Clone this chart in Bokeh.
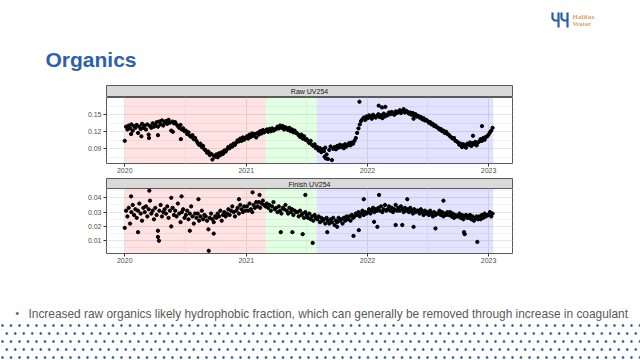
import pandas as pd
from bokeh.plotting import figure
from bokeh.layouts import column
from bokeh.models import Range1d, FixedTicker, DatetimeTickFormatter, NumeralTickFormatter, BoxAnnotation
from bokeh.core.properties import value
from bokeh.embed import file_html
from bokeh.resources import INLINE

# ---------------- text ----------------
title_text = "Organics"
bullet_text = ("Increased raw organics likely hydrophobic fraction, which can generally "
               "be removed through increase in coagulant")
logo_words = ["Halifax", "Water"]
panel_titles = ["Raw UV254", "Finish UV254"]

# ---------------- data ----------------
series_start = "2020-01-01"
sample_step = "4D"

raw_uv254 = [
    0.104, 0.129, 0.124, 0.131, 0.126, 0.133, 0.122, 0.130,
    0.127, 0.132, 0.118, 0.129, 0.125, 0.134, 0.127,
    0.131, 0.124, 0.133, 0.115, 0.130, 0.127, 0.135, 0.129,
    0.132, 0.137, 0.129, 0.138, 0.133, 0.140, 0.131, 0.136,
    0.139, 0.134, 0.141, 0.136, 0.122, 0.138, 0.135,
    0.137, 0.133, 0.130, 0.127, 0.132, 0.124, 0.126, 0.121,
    0.122, 0.116, 0.119, 0.113, 0.111, 0.114, 0.107, 0.109,
    0.104, 0.100, 0.097, 0.099, 0.093, 0.095, 0.089,
    0.087, 0.083, 0.085, 0.079, 0.081, 0.071, 0.078, 0.076,
    0.080, 0.075, 0.082, 0.079, 0.084, 0.081, 0.087, 0.085,
    0.089, 0.093, 0.091, 0.096, 0.094, 0.099, 0.097,
    0.101, 0.105, 0.103, 0.108, 0.104, 0.110, 0.106, 0.109,
    0.112, 0.108, 0.115, 0.111, 0.117, 0.113, 0.116, 0.110,
    0.118, 0.115, 0.121, 0.117, 0.123, 0.119, 0.122,
    0.124, 0.120, 0.125, 0.121, 0.126, 0.122, 0.124,
    0.125, 0.129, 0.126, 0.131, 0.127, 0.130, 0.124, 0.128,
    0.126, 0.123, 0.127, 0.121, 0.124, 0.119, 0.122, 0.118,
    0.117, 0.114, 0.111, 0.115, 0.108, 0.112, 0.106,
    0.107, 0.103, 0.100, 0.104, 0.097, 0.095, 0.098, 0.091,
    0.093, 0.087, 0.091, 0.084, 0.089, 0.086, 0.092, 0.080,
    0.072, 0.088, 0.094, 0.070, 0.090, 0.093, 0.089,
    0.095, 0.092, 0.097, 0.093, 0.096, 0.091, 0.098, 0.094,
    0.097, 0.100, 0.096, 0.101, 0.099, 0.104, 0.109,
    0.118, 0.126, 0.133, 0.139, 0.142, 0.145, 0.141, 0.147,
    0.144, 0.149, 0.146, 0.143, 0.150, 0.147, 0.145, 0.148,
    0.151, 0.146, 0.149, 0.144, 0.152, 0.147, 0.150,
    0.149, 0.154, 0.151, 0.155, 0.152, 0.150, 0.156, 0.153,
    0.155, 0.158, 0.153, 0.157, 0.160, 0.154, 0.157,
    0.155, 0.152, 0.154, 0.150, 0.153, 0.149, 0.151, 0.147,
    0.148, 0.145, 0.146, 0.142, 0.144, 0.140, 0.141,
    0.139, 0.136, 0.137, 0.133, 0.134, 0.130, 0.131, 0.128,
    0.127, 0.124, 0.125, 0.121, 0.122, 0.118, 0.120, 0.116,
    0.115, 0.112, 0.110, 0.108, 0.109, 0.104, 0.103,
    0.101, 0.097, 0.099, 0.093, 0.098, 0.096, 0.092, 0.099,
    0.097, 0.101, 0.095, 0.100, 0.098, 0.102, 0.096, 0.101,
    0.103, 0.107, 0.104, 0.109, 0.106, 0.111, 0.112,
    0.115, 0.119, 0.122, 0.127,
]

finish_uv254 = [
    0.019, 0.031, 0.027, 0.033, 0.022, 0.030, 0.035, 0.028,
    0.032, 0.026, 0.031, 0.036, 0.029, 0.024, 0.033,
    0.030, 0.034, 0.027, 0.032, 0.038, 0.029, 0.031, 0.025,
    0.033, 0.028, 0.017, 0.031, 0.035, 0.027, 0.030, 0.032,
    0.029, 0.034, 0.026, 0.031, 0.020, 0.033, 0.028,
    0.031, 0.027, 0.036, 0.029, 0.023, 0.030, 0.032, 0.026,
    0.028, 0.031, 0.025, 0.029, 0.034, 0.027, 0.022, 0.029,
    0.026, 0.029, 0.024, 0.027, 0.031, 0.025, 0.028,
    0.027, 0.024, 0.018, 0.026, 0.029, 0.025, 0.023, 0.027,
    0.026, 0.029, 0.027, 0.031, 0.024, 0.028, 0.030, 0.027,
    0.029, 0.032, 0.028, 0.031, 0.034, 0.030, 0.027,
    0.031, 0.033, 0.029, 0.035, 0.032, 0.030, 0.034, 0.031,
    0.034, 0.031, 0.036, 0.032, 0.030, 0.035, 0.033, 0.037,
    0.034, 0.037, 0.033, 0.036, 0.038, 0.035, 0.034,
    0.036, 0.033, 0.035, 0.031, 0.034, 0.037, 0.032,
    0.033, 0.030, 0.034, 0.031, 0.029, 0.033, 0.032, 0.035,
    0.031, 0.029, 0.033, 0.030, 0.032, 0.028, 0.031, 0.030,
    0.030, 0.027, 0.031, 0.028, 0.029, 0.026, 0.030,
    0.028, 0.026, 0.029, 0.025, 0.027, 0.024, 0.028, 0.026,
    0.025, 0.027, 0.023, 0.026, 0.024, 0.025, 0.022, 0.026,
    0.024, 0.022, 0.025, 0.023, 0.026, 0.021, 0.024,
    0.023, 0.026, 0.024, 0.025, 0.022, 0.026, 0.024, 0.027,
    0.025, 0.027, 0.024, 0.028, 0.026, 0.027, 0.029,
    0.028, 0.030, 0.027, 0.029, 0.031, 0.028, 0.030, 0.029,
    0.030, 0.032, 0.029, 0.031, 0.033, 0.030, 0.032, 0.031,
    0.033, 0.031, 0.034, 0.030, 0.032, 0.035, 0.031,
    0.032, 0.034, 0.031, 0.033, 0.030, 0.032, 0.035, 0.031,
    0.033, 0.031, 0.034, 0.032, 0.030, 0.033, 0.031,
    0.032, 0.030, 0.033, 0.031, 0.029, 0.032, 0.030, 0.031,
    0.031, 0.029, 0.032, 0.030, 0.028, 0.031, 0.029,
    0.030, 0.028, 0.031, 0.029, 0.027, 0.030, 0.028, 0.029,
    0.029, 0.031, 0.028, 0.030, 0.027, 0.029, 0.028, 0.030,
    0.028, 0.030, 0.027, 0.029, 0.026, 0.028, 0.027,
    0.027, 0.029, 0.026, 0.028, 0.025, 0.027, 0.028, 0.026,
    0.026, 0.028, 0.025, 0.027, 0.024, 0.026, 0.027, 0.025,
    0.027, 0.025, 0.028, 0.026, 0.029, 0.027, 0.028,
    0.028, 0.030, 0.027, 0.029,
]

raw_extra_dates = ["2020-01-20", "2020-02-20", "2020-03-14", "2020-04-10", "2020-05-25",
                   "2020-06-18", "2021-08-25", "2021-08-29", "2021-12-08", "2022-02-04",
                   "2022-02-14", "2022-02-24", "2022-05-20", "2022-11-15", "2022-12-12"]
raw_extra_values = [0.116, 0.112, 0.109, 0.114, 0.120,
                    0.107, 0.076, 0.073, 0.173, 0.166,
                    0.163, 0.164, 0.143, 0.113, 0.130]

finish_extra_dates = ["2020-01-20", "2020-02-10", "2020-03-15", "2020-04-10", "2020-04-13",
                      "2020-05-20", "2020-06-20", "2020-07-15", "2020-08-10", "2020-09-10",
                      "2020-09-25", "2020-12-10", "2021-01-20", "2021-02-10", "2021-04-15",
                      "2021-05-20", "2021-06-20", "2021-06-28", "2021-07-20", "2021-09-02",
                      "2021-10-02", "2021-11-20", "2021-12-06", "2021-12-21", "2022-01-21",
                      "2022-01-31", "2022-02-05", "2022-03-27", "2022-04-16", "2022-05-01",
                      "2022-05-20", "2022-07-25", "2022-08-18", "2022-10-19", "2022-10-21",
                      "2022-11-28"]
finish_extra_values = [0.041, 0.016, 0.045, 0.0127, 0.010,
                       0.040, 0.041, 0.017, 0.039, 0.003,
                       0.015, 0.039, 0.0438, 0.042, 0.016,
                       0.016, 0.0146, 0.042, 0.0085, 0.016,
                       0.0197, 0.0134, 0.0174, 0.039, 0.0232,
                       0.0197, 0.042, 0.021, 0.021, 0.039,
                       0.0197, 0.0186, 0.038, 0.016, 0.0146,
                       0.0092]

period_starts = ["2020-01-01", "2021-03-01", "2021-08-01"]
period_ends = ["2021-03-01", "2021-08-01", "2023-01-15"]
period_colors = ["#ff0000", "#00ff00", "#0000ff"]

year_ticks = ["2020-01-01", "2021-01-01", "2022-01-01", "2023-01-01"]
year_minor = ["2020-07-01", "2021-07-01", "2022-07-01"]
x_limits = ["2019-11-07", "2023-03-14"]

raw_ticks = [0.09, 0.12, 0.15]
raw_minor = [0.075, 0.105, 0.135, 0.165]
raw_limits = [0.064, 0.1805]
finish_ticks = [0.01, 0.02, 0.03, 0.04]
finish_minor = [0.005, 0.015, 0.025, 0.035, 0.045]
finish_limits = [0.0011, 0.0465]

# ---------------- style ----------------
W = 640
FONT = "Liberation Sans"
BLUE = "#2d62ab"
LEFT, RIGHT = 106, 128


def ms(d):
    return pd.Timestamp(d).value / 1e6


def blank(height, top, bottom):
    p = figure(width=W, height=height, output_backend="svg", toolbar_location=None,
               x_range=Range1d(0, W), y_range=Range1d(bottom, top),
               x_axis_location=None, y_axis_location=None,
               min_border_left=0, min_border_right=0, min_border_top=0, min_border_bottom=0)
    p.xgrid.visible = False
    p.ygrid.visible = False
    p.outline_line_color = None
    p.background_fill_color = "white"
    p.border_fill_color = "white"
    return p


def strip(height, label):
    p = figure(width=W, height=height, output_backend="svg", toolbar_location=None,
               x_range=Range1d(0, 1), y_range=Range1d(0, 1),
               x_axis_location=None, y_axis_location=None,
               min_border_left=LEFT, min_border_right=RIGHT, min_border_top=0, min_border_bottom=0)
    p.xgrid.visible = False
    p.ygrid.visible = False
    p.background_fill_color = "#d9d9d9"
    p.border_fill_color = "white"
    p.outline_line_color = "#5a5a5a"
    p.text(x=[0.5], y=[0.5], text=[label], text_align="center", text_baseline="middle",
           text_font=value(FONT), text_font_size="7px", text_color="#1a1a1a")
    return p


def panel(height, values, extra_dates, extra_values, ylims, yticks, yminor, fmt):
    p = figure(width=W, height=height, output_backend="svg", toolbar_location=None,
               x_axis_type="datetime",
               x_range=Range1d(ms(x_limits[0]), ms(x_limits[1])),
               y_range=Range1d(ylims[0], ylims[1]),
               min_border_left=LEFT, min_border_right=RIGHT, min_border_top=0, min_border_bottom=14)
    p.background_fill_color = "white"
    p.border_fill_color = "white"
    p.outline_line_color = "#5a5a5a"

    p.xaxis.ticker = FixedTicker(ticks=[ms(t) for t in year_ticks],
                                 minor_ticks=[ms(t) for t in year_minor])
    p.xaxis.formatter = DatetimeTickFormatter(years="%Y", months="%Y", days="%Y",
                                              hours="%Y", minutes="%Y", seconds="%Y",
                                              milliseconds="%Y", microseconds="%Y")
    p.yaxis.ticker = FixedTicker(ticks=yticks, minor_ticks=yminor)
    p.yaxis.formatter = NumeralTickFormatter(format=fmt)
    for ax in (p.xaxis, p.yaxis):
        ax.axis_line_color = None
        ax.major_tick_line_color = "#333333"
        ax.major_tick_out = 3
        ax.major_tick_in = 0
        ax.minor_tick_line_color = None
        ax.major_label_text_font = FONT
        ax.major_label_text_font_size = "7px"
        ax.major_label_text_color = "#4d4d4d"
    p.xaxis.major_label_standoff = 0
    p.yaxis.major_label_standoff = 1

    for g in (p.xgrid, p.ygrid):
        g.grid_line_color = "#e6e6e6"
        g.grid_line_width = 1
        g.minor_grid_line_color = "#f2f2f2"
        g.minor_grid_line_width = 1

    for s, e, c in zip(period_starts, period_ends, period_colors):
        p.add_layout(BoxAnnotation(left=ms(s), right=ms(e), fill_color=c, fill_alpha=0.11,
                                   line_color=None, level="underlay"))

    dates = pd.date_range(series_start, periods=len(values), freq=sample_step)
    p.scatter(x=dates, y=values, size=3.3, color="black")
    p.scatter(x=pd.to_datetime(extra_dates), y=extra_values, size=3.3, color="black")
    return p


# ---------------- header ----------------
head = blank(85, 0, 85)
head.text(x=[45], y=[58.5], text=[title_text], text_font=value(FONT), text_font_style="bold",
          text_font_size="21px", text_color=BLUE, text_baseline="middle")
# logo mark
head.multi_line(xs=[[552, 552, 554, 558], [558, 558], [561, 561, 563, 567], [567, 567]],
                ys=[[12, 18, 20, 20], [12, 27], [12, 18, 20, 20], [12, 27]],
                line_color="#2b5ea7", line_width=2.2)
head.text(x=[572, 572], y=[16.5, 23.5], text=logo_words, text_font=value("Liberation Serif"),
          text_font_style="bold", text_font_size="7px", text_color="#e0a172",
          text_baseline="middle")

# ---------------- panels ----------------
strip_raw = strip(12, panel_titles[0])
raw_p = panel(80, raw_uv254, raw_extra_dates, raw_extra_values, raw_limits,
              raw_ticks, raw_minor, "0.00")
strip_fin = strip(11, panel_titles[1])
fin_p = panel(79, finish_uv254, finish_extra_dates, finish_extra_values, finish_limits,
              finish_ticks, finish_minor, "0.00")
charts = column(strip_raw, raw_p, strip_fin, fin_p, spacing=0)

# ---------------- footer ----------------
foot = blank(93, 267, 360)
foot.text(x=[15], y=[313], text=["\u2022"], text_font=value(FONT), text_font_size="10px",
          text_color="#595959", text_baseline="middle")
foot.text(x=[28], y=[313], text=[bullet_text], text_font=value(FONT), text_font_size="11.9px",
          text_color="#595959", text_baseline="middle")
dot_x, dot_y = [], []
for r, yy in enumerate([325, 333, 341, 349, 357]):
    off = 0 if r % 2 == 0 else 4.25
    xx = 2 + off
    while xx < 640:
        dot_x.append(xx)
        dot_y.append(yy)
        xx += 8.5
foot.scatter(x=dot_x, y=dot_y, size=1.8, color="#2b5ea7")

layout = column(head, charts, foot, spacing=0)

open("out.html", "w").write(file_html(layout, INLINE))
